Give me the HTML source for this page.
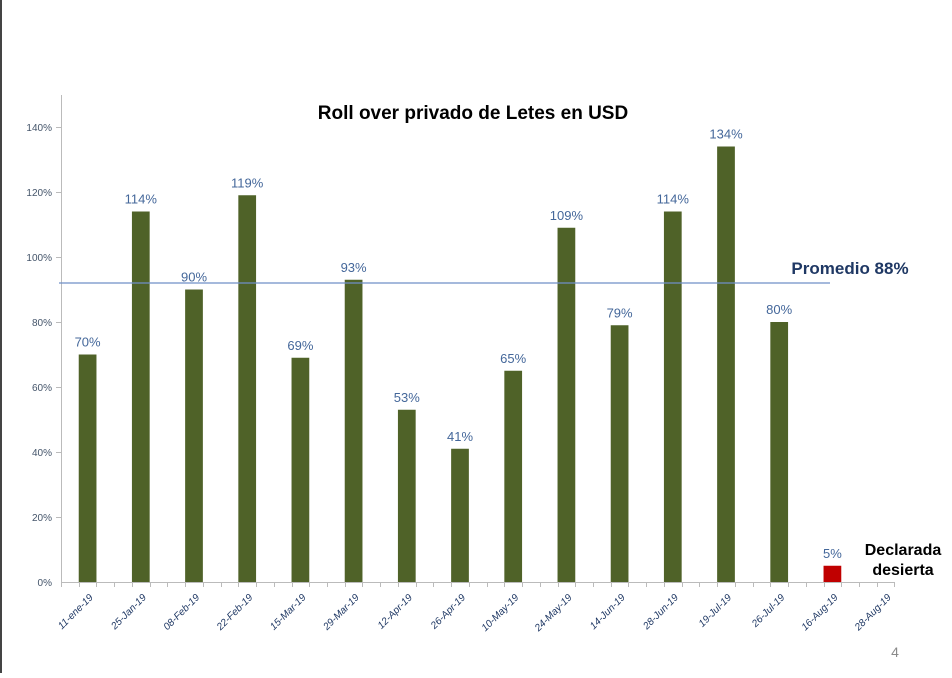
<!DOCTYPE html><html><head><style>body{margin:0;background:#fff}</style></head><body>
<svg width="952" height="673" xmlns="http://www.w3.org/2000/svg" font-family="Liberation Sans, sans-serif">
<rect x="0" y="0" width="2" height="673" fill="#444"/>
<line x1="61.5" y1="95" x2="61.5" y2="582" stroke="#bbb"/>
<line x1="61" y1="582.5" x2="894" y2="582.5" stroke="#bbb"/>
<g fill="#44546a" font-size="10" text-anchor="end">
<text x="52" y="586">0%</text><text x="52" y="521">20%</text><text x="52" y="456">40%</text><text x="52" y="391">60%</text><text x="52" y="326">80%</text><text x="52" y="261">100%</text><text x="52" y="196">120%</text><text x="52" y="131">140%</text>
</g>
<g stroke="#bbb">
<line x1="56" y1="517.5" x2="61" y2="517.5"/><line x1="56" y1="452.5" x2="61" y2="452.5"/><line x1="56" y1="387.5" x2="61" y2="387.5"/><line x1="56" y1="322.5" x2="61" y2="322.5"/><line x1="56" y1="257.5" x2="61" y2="257.5"/><line x1="56" y1="192.5" x2="61" y2="192.5"/><line x1="56" y1="127.5" x2="61" y2="127.5"/>
</g>
<g id="ticks" stroke="#bbb"></g>
<g id="bars"></g>
<line x1="59" y1="283" x2="830" y2="283" stroke="#6f8fc7" stroke-width="1.2"/>
<text x="473" y="119" text-anchor="middle" font-size="19" font-weight="bold" fill="#000">Roll over privado de Letes en USD</text>
<text x="850" y="274" text-anchor="middle" font-size="17" font-weight="bold" fill="#1f3864">Promedio 88%</text>
<text x="903" y="555" text-anchor="middle" font-size="16" font-weight="bold" fill="#000">Declarada</text>
<text x="903" y="575" text-anchor="middle" font-size="16" font-weight="bold" fill="#000">desierta</text>
<text x="895" y="657" text-anchor="middle" font-size="14" fill="#8a8a8a">4</text>
</svg>
<script>
const vals=[70,114,90,119,69,93,53,41,65,109,79,114,134,80,5,null];
const labs=["11-ene-19","25-Jan-19","08-Feb-19","22-Feb-19","15-Mar-19","29-Mar-19","12-Apr-19","26-Apr-19","10-May-19","24-May-19","14-Jun-19","28-Jun-19","19-Jul-19","26-Jul-19","16-Aug-19","28-Aug-19"];
const c=53.2,ns="http://www.w3.org/2000/svg";
const bars=document.getElementById("bars"),ticks=document.getElementById("ticks");
function el(t,a,p,txt){const e=document.createElementNS(ns,t);for(const k in a)e.setAttribute(k,a[k]);if(txt)e.textContent=txt;p.appendChild(e);}
for(let i=0;i<=47;i++){const x=Math.round(61+i*c/3)+0.5;el("line",{x1:x,y1:582,x2:x,y2:587},ticks);}
vals.forEach((v,i)=>{const l=61+i*c+c/3,cx=l+c/6;
 if(v!==null){const h=v*3.25;el("rect",{x:l,y:582-h,width:c/3,height:h,fill:i==14?"#c00000":"#4f6228"},bars);
 el("text",{x:cx,y:582-h-8,"text-anchor":"middle","font-size":"13",fill:"#44679a"},bars,v+"%");}
 el("text",{x:0,y:0,"text-anchor":"end","font-size":"10","font-style":"italic",fill:"#1f3864",transform:`translate(${cx+6},${598}) rotate(-45)`},bars,labs[i]);
});
</script>
</body></html>
